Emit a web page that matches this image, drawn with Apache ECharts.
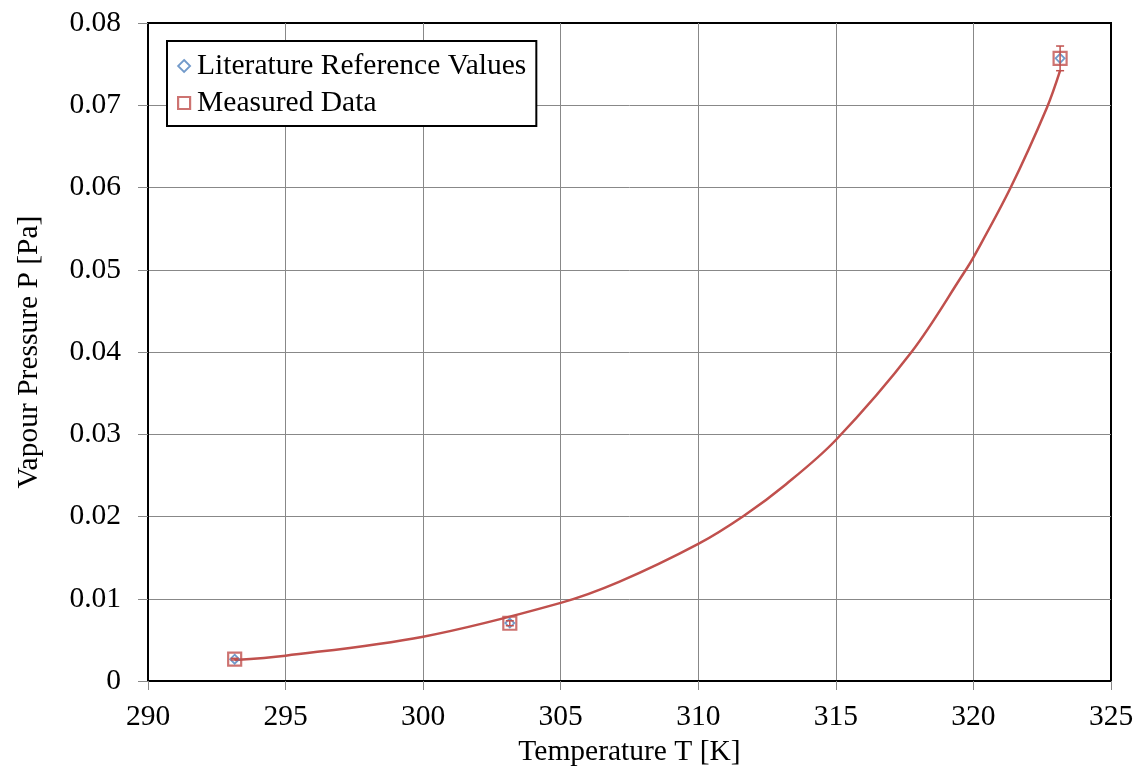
<!DOCTYPE html>
<html>
<head>
<meta charset="utf-8">
<script src="https://cdn.jsdelivr.net/npm/echarts@6/dist/echarts.min.js"></script>
<style>html,body{margin:0;padding:0;background:#fff}#c{width:1140px;height:774px}</style>
</head>
<body>
<div id="c"></div>
<script>
// Data
const literatureT = [293.15, 303.15, 323.15];
const literatureP = [0.00265, 0.00705, 0.0757];
const measuredT = [293.15, 303.15, 323.15];
const measuredP = [0.00266, 0.00702, 0.0757];
const measuredErr = [0.0001, 0.0003, 0.0015];
const fitT = [293.15, 295, 300, 305, 307.12, 310, 311.66, 313.18, 315, 317.75, 319.65, 320, 321.34, 322.67, 323.15];
const fitP = [0.00255, 0.00308, 0.00539, 0.00950, 0.01205, 0.01667, 0.0201, 0.0239, 0.0293, 0.0400, 0.0496, 0.0515, 0.0599, 0.0697, 0.0742];
const xTicks = [290, 325, 5];
const yTicks = [0, 0.08, 0.01];

const RED = '#C0504D', BLUE = '#4F81BD';
const FONT = 'Liberation Serif';
const FS = 29.5;
const zip = (a, b) => a.map((v, i) => [v, b[i]]);

const chart = echarts.init(document.getElementById('c'), null, {renderer: 'canvas'});
chart.setOption({
  animation: false,
  backgroundColor: '#fff',
  textStyle: {fontFamily: FONT, color: '#000'},
  grid: {left: 148, right: 29, top: 23, bottom: 93, show: true, borderColor: '#000', borderWidth: 2, backgroundColor: 'transparent'},
  legend: {
    left: 167, top: 41, orient: 'vertical',
    backgroundColor: '#fff', borderColor: '#000', borderWidth: 2,
    padding: [10, 10, 8, 10], itemGap: 7, itemWidth: 12, itemHeight: 12,
    textStyle: {fontFamily: FONT, fontSize: FS, color: '#000', padding: [0, 0, 0, 2]},
    data: [
      {name: 'Literature Reference Values', icon: 'diamond', itemStyle: {color: 'rgba(0,0,0,0)', borderColor: BLUE, borderWidth: 1.8}},
      {name: 'Measured Data', icon: 'rect', itemStyle: {color: 'rgba(0,0,0,0)', borderColor: RED, borderWidth: 2.2}}
    ]
  },
  xAxis: {
    type: 'value', min: xTicks[0], max: xTicks[1], interval: xTicks[2],
    name: 'Temperature T [K]', nameLocation: 'middle', nameGap: 56,
    nameTextStyle: {fontFamily: FONT, fontSize: FS, color: '#000'},
    axisLine: {show: true, lineStyle: {color: '#000', width: 2}},
    axisTick: {show: true, inside: false, length: 9, lineStyle: {color: '#888'}},
    axisLabel: {fontFamily: FONT, fontSize: FS, color: '#000', margin: 21},
    splitLine: {show: true, showMinLine: false, showMaxLine: false, lineStyle: {color: '#888', width: 1}}
  },
  yAxis: {
    type: 'value', min: yTicks[0], max: yTicks[1], interval: yTicks[2],
    name: 'Vapour Pressure P [Pa]', nameLocation: 'middle', nameGap: 104,
    nameTextStyle: {fontFamily: FONT, fontSize: FS, color: '#000'},
    axisLine: {show: true, lineStyle: {color: '#000', width: 2}},
    axisTick: {show: true, inside: false, length: 10, lineStyle: {color: '#888'}},
    axisLabel: {fontFamily: FONT, fontSize: FS, color: '#000', margin: 27,
      formatter: v => v === 0 ? '0' : v.toFixed(2)},
    splitLine: {show: true, showMinLine: false, showMaxLine: false, lineStyle: {color: '#888', width: 1}}
  },
  series: [
    {
      name: 'fit', type: 'line', data: zip(fitT, fitP), smooth: 0.35,
      showSymbol: false, symbol: 'none', lineStyle: {color: RED, width: 2.5}, z: 2, silent: true
    },
    {
      name: 'Measured Data', type: 'scatter', data: zip(measuredT, measuredP),
      symbol: 'rect', symbolSize: 13,
      itemStyle: {color: 'rgba(0,0,0,0)', borderColor: RED, borderWidth: 2.2}, z: 3
    },
    {
      name: 'Literature Reference Values', type: 'scatter', data: zip(literatureT, literatureP),
      symbol: 'diamond', symbolSize: 9,
      itemStyle: {color: 'rgba(0,0,0,0)', borderColor: BLUE, borderWidth: 1.8}, z: 4
    },
    {
      name: 'err', type: 'custom', z: 5, silent: true,
      data: measuredT.map((t, i) => [t, measuredP[i] - measuredErr[i], measuredP[i] + measuredErr[i]]),
      renderItem: (params, api) => {
        const lo = api.coord([api.value(0), api.value(1)]);
        const hi = api.coord([api.value(0), api.value(2)]);
        const w = 4;
        const st = {stroke: RED, lineWidth: 1.5};
        return {type: 'group', children: [
          {type: 'line', shape: {x1: lo[0], y1: lo[1], x2: hi[0], y2: hi[1]}, style: st},
          {type: 'line', shape: {x1: lo[0] - w, y1: lo[1], x2: lo[0] + w, y2: lo[1]}, style: st},
          {type: 'line', shape: {x1: hi[0] - w, y1: hi[1], x2: hi[0] + w, y2: hi[1]}, style: st}
        ]};
      }
    }
  ]
});
</script>
</body>
</html>
